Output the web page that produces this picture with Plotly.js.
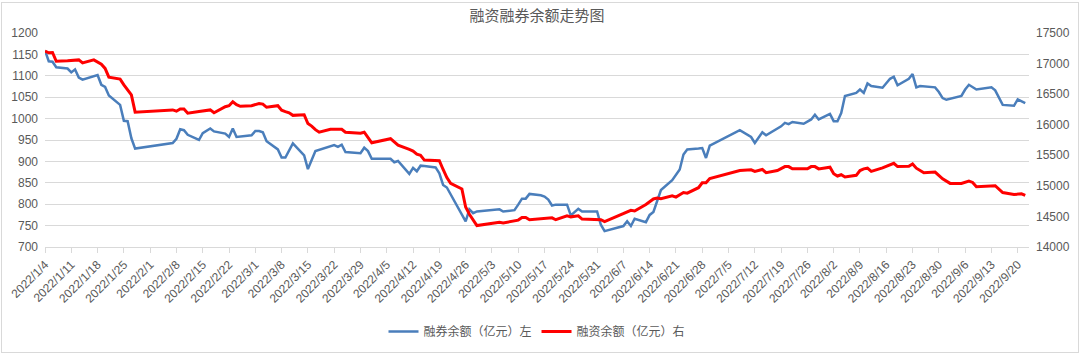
<!DOCTYPE html>
<html>
<head>
<meta charset="utf-8">
<script src="https://cdn.plot.ly/plotly-3.0.1.min.js"></script>
<style>
  html, body { margin: 0; padding: 0; background: #ffffff; }
  #chart { width: 1080px; height: 358px; }
  #frame { position: absolute; left: 1px; top: 2px; width: 1076px; height: 349px; border: 1px solid #d9d9d9; pointer-events: none; }
</style>
</head>
<body>
<div id="chart"></div>
<div id="frame"></div>
<script>
// 融券余额（亿元）— left axis
const shortDates = [
  '2022-01-04','2022-01-05','2022-01-06','2022-01-07','2022-01-10','2022-01-11','2022-01-12','2022-01-13','2022-01-14',
  '2022-01-18','2022-01-19','2022-01-20','2022-01-21','2022-01-24','2022-01-25','2022-01-26','2022-01-27','2022-01-28',
  '2022-02-07','2022-02-08','2022-02-09','2022-02-10','2022-02-11','2022-02-14','2022-02-15','2022-02-17','2022-02-18',
  '2022-02-21','2022-02-22','2022-02-23','2022-02-24','2022-02-28','2022-03-01','2022-03-02','2022-03-03','2022-03-04',
  '2022-03-07','2022-03-08','2022-03-09','2022-03-11','2022-03-14','2022-03-15','2022-03-17','2022-03-21','2022-03-22',
  '2022-03-23','2022-03-24','2022-03-25','2022-03-28','2022-03-29','2022-03-30','2022-03-31','2022-04-01','2022-04-06',
  '2022-04-07','2022-04-08','2022-04-11','2022-04-12','2022-04-13','2022-04-14','2022-04-15','2022-04-18','2022-04-19',
  '2022-04-20','2022-04-21','2022-04-26','2022-04-27','2022-04-28','2022-04-29','2022-05-05','2022-05-06','2022-05-09',
  '2022-05-10','2022-05-11','2022-05-12','2022-05-13','2022-05-16','2022-05-17','2022-05-18','2022-05-19','2022-05-20',
  '2022-05-23','2022-05-24','2022-05-26','2022-05-27','2022-05-31','2022-06-01','2022-06-02','2022-06-07','2022-06-08',
  '2022-06-09','2022-06-10','2022-06-13','2022-06-14','2022-06-15','2022-06-17','2022-06-20','2022-06-22','2022-06-23',
  '2022-06-24','2022-06-27','2022-06-28','2022-06-29','2022-06-30','2022-07-08','2022-07-11','2022-07-12','2022-07-14',
  '2022-07-15','2022-07-19','2022-07-20','2022-07-21','2022-07-22','2022-07-25','2022-07-27','2022-07-28','2022-07-29',
  '2022-08-01','2022-08-02','2022-08-03','2022-08-04','2022-08-05','2022-08-08','2022-08-09','2022-08-10','2022-08-11',
  '2022-08-12','2022-08-15','2022-08-17','2022-08-18','2022-08-19','2022-08-22','2022-08-23','2022-08-24','2022-08-25',
  '2022-08-29','2022-08-30','2022-08-31','2022-09-01','2022-09-05','2022-09-06','2022-09-07','2022-09-09','2022-09-13',
  '2022-09-14','2022-09-16','2022-09-19','2022-09-20','2022-09-22'
];
const shortValues = [
  1159,1134,1133,1120,1117,1108,1115,1096,1091,
  1102,1079,1074,1054,1032,995,994,954,930,
  943,953,975,973,962,950,966,977,970,
  965,957,977,957,961,971,971,968,947,
  928,909,909,942,914,882,924,935,938,
  934,939,922,921,919,932,924,906,906,
  898,901,871,885,877,890,889,886,872,
  845,839,760,788,779,783,788,783,786,
  799,813,813,824,821,818,811,797,799,
  799,774,789,783,783,752,737,749,760,
  749,766,758,775,782,833,856,881,916,
  928,930,931,908,937,973,957,943,968,
  961,982,990,987,992,988,998,1009,998,
  1011,994,994,1013,1053,1060,1068,1060,1082,
  1076,1072,1093,1098,1078,1093,1104,1073,1076,
  1073,1062,1048,1044,1053,1068,1079,1068,1073,
  1066,1032,1030,1045,1036
];

// 融资余额（亿元）— right axis
const marginDates = [
  '2022-01-04','2022-01-05','2022-01-06','2022-01-07','2022-01-10','2022-01-11','2022-01-12','2022-01-13','2022-01-14',
  '2022-01-17','2022-01-19','2022-01-20','2022-01-21','2022-01-24','2022-01-25','2022-01-26','2022-01-27','2022-01-28',
  '2022-02-07','2022-02-08','2022-02-09','2022-02-10','2022-02-11','2022-02-14','2022-02-15','2022-02-16','2022-02-17',
  '2022-02-18','2022-02-21','2022-02-22','2022-02-23','2022-02-24','2022-02-25','2022-02-28','2022-03-01','2022-03-02',
  '2022-03-03','2022-03-04','2022-03-07','2022-03-08','2022-03-09','2022-03-10','2022-03-11','2022-03-14','2022-03-15',
  '2022-03-16','2022-03-17','2022-03-18','2022-03-21','2022-03-22','2022-03-23','2022-03-24','2022-03-25','2022-03-28',
  '2022-03-29','2022-03-30','2022-03-31','2022-04-01','2022-04-06','2022-04-07','2022-04-08','2022-04-11','2022-04-12',
  '2022-04-13','2022-04-14','2022-04-15','2022-04-18','2022-04-19','2022-04-20','2022-04-21','2022-04-22','2022-04-25',
  '2022-04-26','2022-04-27','2022-04-29','2022-05-05','2022-05-06','2022-05-09','2022-05-10','2022-05-11','2022-05-12',
  '2022-05-13','2022-05-16','2022-05-17','2022-05-19','2022-05-20','2022-05-23','2022-05-24','2022-05-26','2022-05-27',
  '2022-05-31','2022-06-01','2022-06-02','2022-06-07','2022-06-09','2022-06-10','2022-06-13','2022-06-15','2022-06-16',
  '2022-06-17','2022-06-20','2022-06-21','2022-06-23','2022-06-24','2022-06-27','2022-06-28','2022-06-29','2022-06-30',
  '2022-07-08','2022-07-11','2022-07-12','2022-07-14','2022-07-15','2022-07-18','2022-07-20','2022-07-21','2022-07-22',
  '2022-07-26','2022-07-27','2022-07-28','2022-07-29','2022-08-01','2022-08-02','2022-08-03','2022-08-04','2022-08-05',
  '2022-08-08','2022-08-09','2022-08-10','2022-08-11','2022-08-12','2022-08-15','2022-08-17','2022-08-18','2022-08-19',
  '2022-08-22','2022-08-23','2022-08-24','2022-08-26','2022-08-29','2022-08-31','2022-09-02','2022-09-05','2022-09-07',
  '2022-09-08','2022-09-09','2022-09-14','2022-09-16','2022-09-19','2022-09-21','2022-09-22'
];
const marginValues = [
  17203,17176,17181,17038,17045,17049,17065,17060,17012,
  17060,16990,16921,16778,16746,16651,16577,16487,16205,
  16242,16221,16258,16258,16189,16216,16225,16237,16242,
  16195,16295,16311,16375,16327,16301,16311,16330,16348,
  16338,16285,16311,16237,16215,16195,16153,16163,16020,
  15978,15920,15877,15925,15925,15930,15925,15877,15865,
  15861,15877,15800,15705,15771,15720,15665,15596,15570,
  15517,15501,15422,15415,15411,15268,15135,15040,14950,
  14653,14536,14350,14403,14393,14419,14440,14483,14483,
  14446,14456,14467,14477,14446,14509,14493,14509,14456,
  14456,14446,14414,14552,14599,14588,14694,14785,14800,
  14790,14837,14816,14890,14880,14970,15050,15050,15119,
  15251,15262,15236,15268,15215,15251,15315,15315,15278,
  15278,15315,15315,15278,15305,15199,15161,15182,15145,
  15172,15251,15278,15289,15236,15294,15347,15369,15315,
  15321,15358,15289,15215,15225,15114,15040,15040,15077,
  15056,14987,15003,14890,14859,14869,14843
];

const seriesNames = ['融券余额（亿元）左', '融资余额（亿元）右'];
const chartTitle = '融资融券余额走势图';

const FONT = '"Liberation Sans", "Noto Sans CJK SC", sans-serif';
const GREY = '#595959';

const traces = [
  {
    x: shortDates, y: shortValues, name: seriesNames[0], type: 'scatter', mode: 'lines',
    line: { color: '#4a7ebb', width: 2.5 }, yaxis: 'y'
  },
  {
    x: marginDates, y: marginValues, name: seriesNames[1], type: 'scatter', mode: 'lines',
    line: { color: '#ff0000', width: 3 }, yaxis: 'y2'
  }
];

const layout = {
  width: 1080, height: 358,
  margin: { l: 45, r: 51, t: 33, b: 105, pad: 0 },
  paper_bgcolor: '#ffffff', plot_bgcolor: '#ffffff',
  font: { family: FONT, color: GREY, size: 12 },
  title: {
    text: chartTitle,
    font: { family: '"Noto Sans CJK SC", sans-serif', size: 15, color: GREY },
    x: 0.5, xref: 'paper', xanchor: 'center',
    y: 0.955, yref: 'container', yanchor: 'middle'
  },
  showlegend: true,
  legend: {
    orientation: 'h', x: 0.5, xanchor: 'center', y: -0.395, yanchor: 'middle',
    font: { family: '"Noto Sans CJK SC", sans-serif', size: 12, color: GREY },
    bgcolor: 'rgba(0,0,0,0)', itemwidth: 30
  },
  xaxis: {
    type: 'date',
    range: ['2022-01-04', '2022-09-23'],
    tick0: '2022-01-04', dtick: 7 * 86400000,
    tickformat: '%Y/%-m/%-d',
    tickangle: -45,
    ticks: 'outside', ticklen: 5, tickcolor: '#d9d9d9', tickwidth: 1,
    showline: true, linecolor: '#d9d9d9', linewidth: 1,
    showgrid: false, zeroline: false,
    tickfont: { family: FONT, size: 12, color: GREY },
    fixedrange: true
  },
  yaxis: {
    range: [700, 1200], dtick: 50, tick0: 700,
    tickformat: 'd',
    showgrid: true, gridcolor: '#d9d9d9', gridwidth: 1,
    zeroline: false, showline: false, ticks: '',
    ticklabelstandoff: 6,
    tickfont: { family: FONT, size: 12, color: GREY }
  },
  yaxis2: {
    range: [14000, 17500], dtick: 500, tick0: 14000,
    tickformat: 'd',
    overlaying: 'y', side: 'right',
    showgrid: false, zeroline: false, showline: false, ticks: '',
    ticklabelstandoff: 6,
    tickfont: { family: FONT, size: 12, color: GREY }
  }
};

Plotly.newPlot('chart', traces, layout, { displayModeBar: false, staticPlot: true });
</script>
</body>
</html>
